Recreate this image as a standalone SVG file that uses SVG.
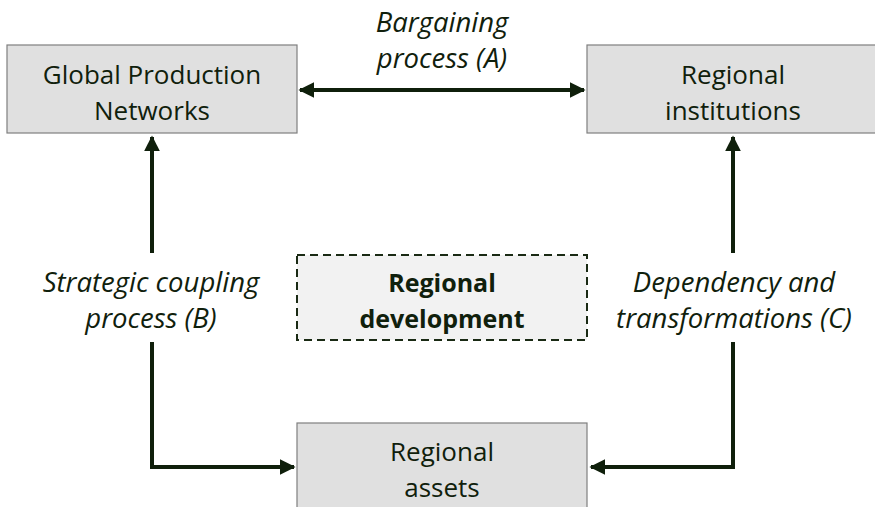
<svg xmlns="http://www.w3.org/2000/svg" width="875" height="507" viewBox="0 0 875 507">
<defs>
<marker id="ah" viewBox="0 0 10 10" refX="9" refY="5" markerWidth="4" markerHeight="4" orient="auto-start-reverse" markerUnits="strokeWidth">
<path d="M0,0 L10,5 L0,10 Z" fill="#0f1f0b"/>
</marker>
<style>
.box{fill:#e0e0e0;stroke:#7f7f7f;stroke-width:1.2}
.dbox{fill:#f2f2f2;stroke:#1a2a14;stroke-width:2;stroke-dasharray:8,5}
.t{font-family:"Open Sans","Liberation Sans",sans-serif;font-size:26px;fill:#10200c;text-anchor:middle}
.i{font-style:italic;font-size:27.5px}
.b{font-weight:bold;font-size:25px}
.c{fill:none;stroke:#0f1f0b;stroke-width:4;marker-end:url(#ah)}
</style>
</defs>
<rect width="875" height="507" fill="#ffffff"/>
<g id="connectors">
<path class="c" style="marker-start:url(#ah)" d="M300,90 H584"/>
<path class="c" d="M152,253 V137"/>
<path class="c" d="M733,253 V137"/>
<path class="c" d="M152,342 V467 H294"/>
<path class="c" d="M733,342 V467 H591"/>
</g>
<g id="gpn">
<rect class="box" x="7" y="45" width="290" height="88"/>
<text class="t" x="152" y="84">Global Production</text>
<text class="t" x="152" y="120">Networks</text>
</g>
<g id="institutions">
<rect class="box" x="587" y="45" width="292" height="88"/>
<text class="t" x="733" y="84">Regional</text>
<text class="t" x="733" y="120">institutions</text>
</g>
<g id="development">
<rect class="dbox" x="297" y="255" width="290" height="85"/>
<text class="t b" x="442" y="292">Regional</text>
<text class="t b" x="442" y="328">development</text>
</g>
<g id="assets">
<rect class="box" x="297" y="423" width="290" height="90"/>
<text class="t" x="442" y="461">Regional</text>
<text class="t" x="442" y="497">assets</text>
</g>
<g id="labels">
<text class="t i" x="442" y="32">Bargaining</text>
<text class="t i" x="442" y="68">process (A)</text>
<text class="t i" x="151" y="292">Strategic coupling</text>
<text class="t i" x="151" y="328">process (B)</text>
<text class="t i" x="734" y="292">Dependency and</text>
<text class="t i" x="734" y="328">transformations (C)</text>
</g>
</svg>
